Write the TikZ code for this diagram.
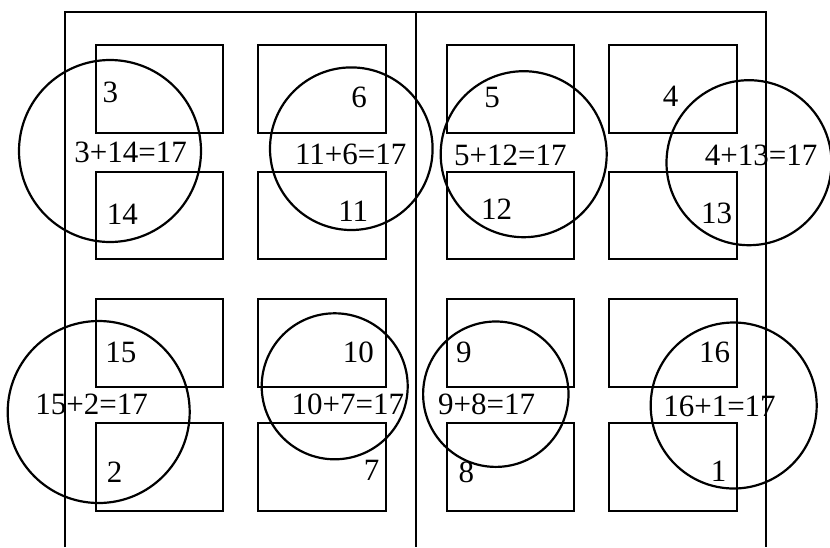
\documentclass[tikz,border=0pt]{standalone}
\usepackage{fontspec}
\setmainfont{Liberation Serif}
\begin{document}
\begin{tikzpicture}[x=1pt,y=-1pt,line width=2.2pt,
  lbl/.style={inner sep=0pt,font=\fontsize{31}{31}\selectfont}]
\useasboundingbox (0,0) rectangle (830,547);
% frame
\draw (65,547) -- (65,12) -- (766,12) -- (766,547);
\draw (416,12) -- (416,547);
% boxes
\foreach \xa/\xb in {96/222.7, 258.3/386, 446.7/574, 609/736.7}{
  \foreach \ya/\yb in {45.3/133.3, 172.3/259.3, 298.7/386.7, 422.7/510.7}{
    \draw (\xa,\ya) rectangle (\xb,\yb);
  }
}
% circles
\draw (110,151) circle (91);
\draw (351.3,148.7) circle (81.3);
\draw (523.7,154.2) circle (83);
\draw (749,162.7) circle (82.5);
\draw (98.7,412) circle (91);
\draw (334.7,386.3) circle (73);
\draw (495.8,394.2) circle (72.7);
\draw (733.7,405.5) circle (83);
% labels
\node[lbl] (n3) at (110.3,92.5) {3};
\node[lbl] (s1) at (130.7,152.3) {3+14=17};
\node[lbl] (n14) at (122.3,214.7) {14};
\node[lbl] (n6) at (359.2,97.7) {6};
\node[lbl] (s2) at (350.8,154.7) {11+6=17};
\node[lbl] (n11) at (353.3,210.8) {11};
\node[lbl] (n5) at (492.2,97.3) {5};
\node[lbl] (s3) at (510.3,155) {5+12=17};
\node[lbl] (n12) at (496.7,209.2) {12};
\node[lbl] (n4) at (670.5,96.7) {4};
\node[lbl] (s4) at (761.2,155.3) {4+13=17};
\node[lbl] (n13) at (716.7,213.8) {13};
\node[lbl] (n15) at (120.8,352.5) {15};
\node[lbl] (s5) at (91.7,404.7) {15+2=17};
\node[lbl] (n2) at (114.5,472.7) {2};
\node[lbl] (n10) at (358.3,352.5) {10};
\node[lbl] (s6) at (347.8,404.7) {10+7=17};
\node[lbl] (n7) at (371.7,470.8) {7};
\node[lbl] (n9) at (463.8,352.5) {9};
\node[lbl] (s7) at (486.7,404.7) {9+8=17};
\node[lbl] (n8) at (466.3,472.2) {8};
\node[lbl] (n16) at (714.5,352.5) {16};
\node[lbl] (s8) at (719.5,406.2) {16+1=17};
\node[lbl] (n1) at (718.7,471.3) {1};
\end{tikzpicture}
\end{document}
